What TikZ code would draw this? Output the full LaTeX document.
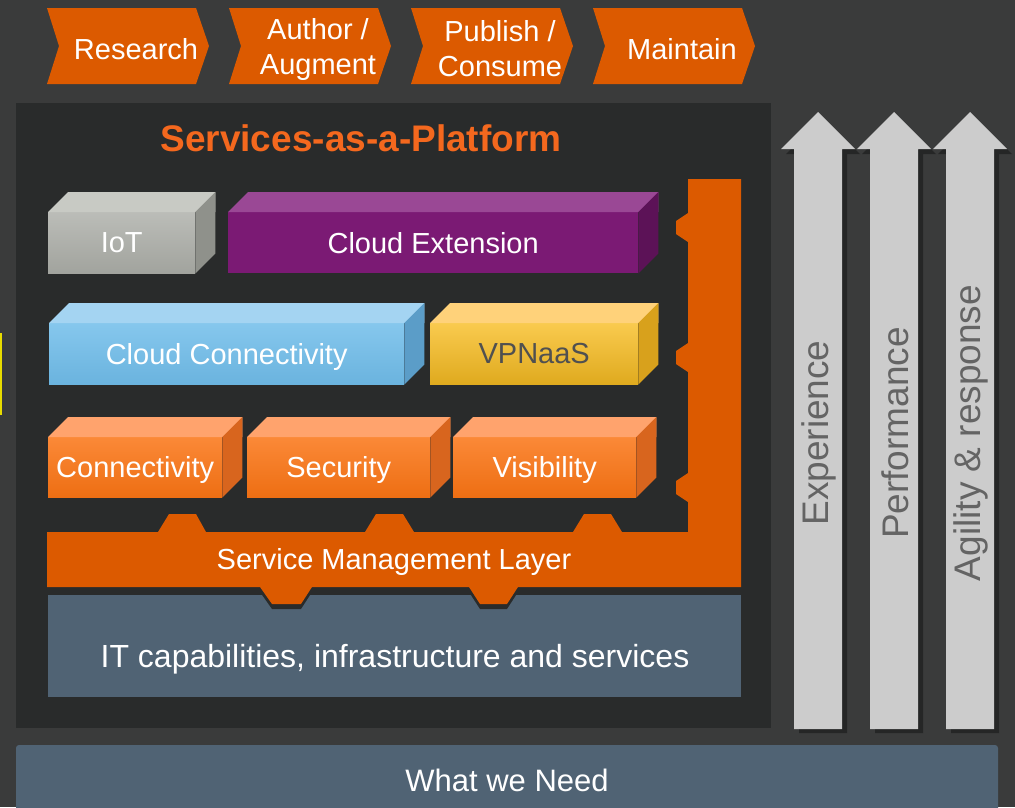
\documentclass[tikz,border=0pt]{standalone}
\usepackage{fontspec}
\setmainfont{Liberation Sans}
\usetikzlibrary{positioning}

\definecolor{bgout}{RGB}{58,59,59}
\definecolor{bgin}{RGB}{41,43,43}
\definecolor{chevor}{RGB}{220,90,0}
\definecolor{titleor}{RGB}{244,104,30}
\definecolor{layerblue}{RGB}{80,99,116}
\definecolor{arrowgray}{RGB}{204,204,204}
\definecolor{arrowtext}{RGB}{100,100,100}
\definecolor{iotf}{RGB}{170,172,166}
\definecolor{iott}{RGB}{200,202,196}
\definecolor{iots}{RGB}{143,145,139}
\definecolor{extf}{RGB}{123,26,116}
\definecolor{extt}{RGB}{154,72,149}
\definecolor{exts}{RGB}{92,18,87}
\definecolor{connf}{RGB}{112,189,234}
\definecolor{connt}{RGB}{164,212,242}
\definecolor{conns}{RGB}{91,157,200}
\definecolor{vpnf}{RGB}{248,189,34}
\definecolor{vpnt}{RGB}{255,210,122}
\definecolor{vpns}{RGB}{216,161,28}
\definecolor{orgf}{RGB}{250,116,20}
\definecolor{orgt}{RGB}{255,163,109}
\definecolor{orgs}{RGB}{216,101,30}

\tikzset{
  txt/.style={text=white,font=\fontsize{29}{35}\selectfont,align=center},
  front/.style={txt,anchor=north west,inner sep=0pt,minimum height=61pt,text depth=0pt},
  arrowlbl/.style={text=arrowtext,font=\fontsize{37}{42}\selectfont,rotate=90},
}

\begin{document}
\begin{tikzpicture}[x=1pt,y=-1pt]
  \useasboundingbox (0,0) rectangle (1015,807);
  \fill[bgout] (0,0) rectangle (1015,807);
  \fill[yellow!80!olive] (0,333) rectangle (1.5,415);

  % process chevrons
  \foreach \x/\t/\n in {47/Research/research,229/{Author /\\Augment}/author,
                        411/{Publish /\\Consume}/publish,593/Maintain/maintain}{
    \fill[chevor] (\x,8) -- (\x+149,8) -- (\x+162,46) -- (\x+149,84)
      -- (\x,84) -- (\x+12,46) -- cycle;
    \node[txt] (\n) at (\x+89,49) {\t};
  }

  % platform panel
  \fill[bgin] (16,103) rectangle (771,728);
  \node[text=titleor,font=\bfseries\fontsize{37}{42}\selectfont] (title)
    at (361,138) {Services-as-a-Platform};

  % infrastructure layer
  \fill[layerblue] (48,595) rectangle (741,697);
  \node[txt,font=\fontsize{32}{38}\selectfont] (infra) at (395,659)
    {IT capabilities, infrastructure and services};

  % service management layer (shadow then shape)
  \foreach \c/\dy in {bgin/5,chevor/0}{
    \fill[\c,yshift=-\dy] (688,179) -- (741,179) -- (741,587)
      -- (518,587) -- (507,604) -- (480,604) -- (469,587)
      -- (312,587) -- (301,604) -- (272,604) -- (260,587)
      -- (47,587) -- (47,532)
      -- (158,532) -- (169,514) -- (196,514) -- (206,532)
      -- (365,532) -- (376,514) -- (403,514) -- (414,532)
      -- (573,532) -- (584,514) -- (611,514) -- (622,532)
      -- (688,532) -- (688,502) -- (676,494) -- (676,481) -- (688,473)
      -- (688,372) -- (676,364) -- (676,351) -- (688,343)
      -- (688,242) -- (676,234) -- (676,221) -- (688,213) -- cycle;
  }
  \node[txt] (sml) at (394,562) {Service Management Layer};

  % service blocks
  \node[front,top color=iotf!80!white,bottom color=iotf!95!black,minimum width=147pt] (iot) at (48,212) {IoT};
  \node[front,fill=extf,minimum width=410pt] (ext) at (228,212) {Cloud Extension};
  \node[front,top color=connf!85!white,bottom color=connf!95!black,minimum width=355pt] (cconn) at (49,323) {Cloud Connectivity};
  \node[front,top color=vpnf!80!white,bottom color=vpnf!90!black,minimum width=208pt,text=arrowtext!80!black] (vpn) at (430,323) {VPNaaS};
  \node[front,top color=orgf!85!white,bottom color=orgf!95!black,minimum width=174pt,minimum height=60pt] (conn) at (48,437) {Connectivity};
  \node[front,top color=orgf!85!white,bottom color=orgf!95!black,minimum width=183pt,minimum height=60pt] (sec) at (247,437) {Security};
  \node[front,top color=orgf!85!white,bottom color=orgf!95!black,minimum width=183pt,minimum height=60pt] (vis) at (453,437) {Visibility};
  \foreach \b/\t/\s in {iot/iott/iots,ext/extt/exts,cconn/connt/conns,vpn/vpnt/vpns,
                        conn/orgt/orgs,sec/orgt/orgs,vis/orgt/orgs}{
    \fill[\t] (\b.north west) -- ++(20,-20) -| ([xshift=20]\b.north east)
      -- (\b.north east) -- cycle;
    \fill[\s] (\b.north east) -- ++(20,-20) -- ([shift={(20,-20)}]\b.south east)
      -- (\b.south east) -- cycle;
  }

  % outcome arrows
  \foreach \x/\n/\t in {818/exp/Experience,894/perf/Performance,970/agil/Agility \& response}{
    \fill[black,opacity=0.35] (\x+5,118) -- (\x+42,154) -- (\x+29,154) -- (\x+29,733)
      -- (\x-19,733) -- (\x-19,154) -- (\x-32,154) -- cycle;
    \fill[arrowgray] (\x,112) -- (\x+37,149) -- (\x+24,149) -- (\x+24,729)
      -- (\x-24,729) -- (\x-24,149) -- (\x-37,149) -- cycle;
    \node[arrowlbl] (\n) at (\x+1,433) {\t};
  }

  % needs bar
  \fill[layerblue,rounded corners=3pt] (16,745) rectangle (998,815);
  \node[txt,font=\fontsize{31}{36}\selectfont] (need) at (507,780) {What we Need};
\end{tikzpicture}
\end{document}
